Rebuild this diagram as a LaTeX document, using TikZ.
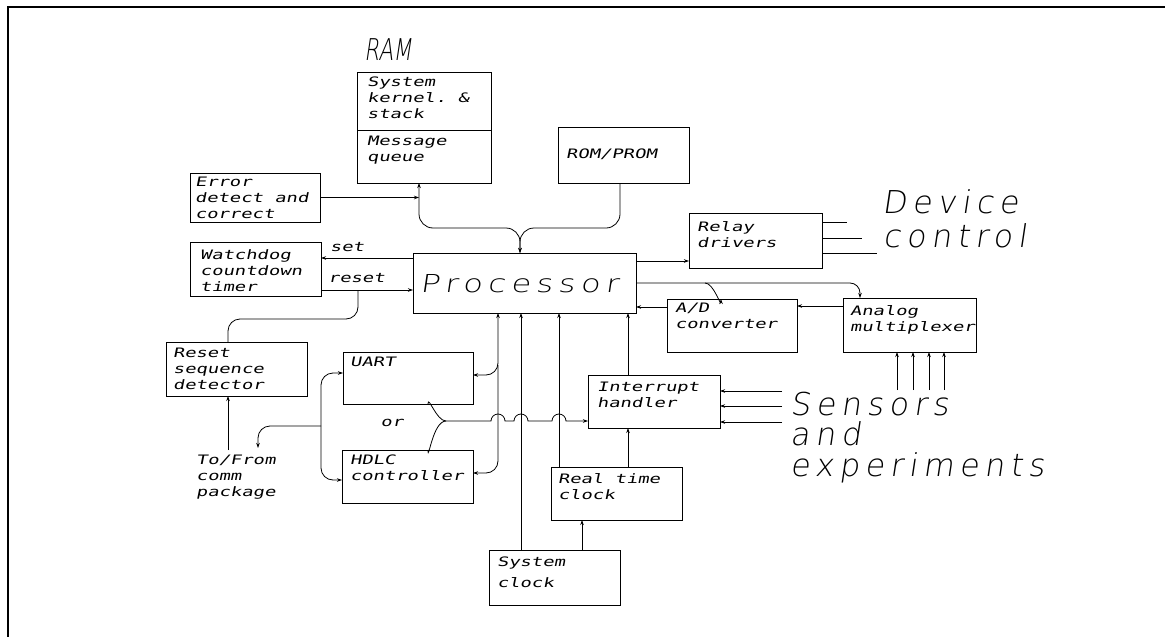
\documentclass[tikz,border=0pt]{standalone}
\usepackage{fontspec}
\usetikzlibrary{arrows.meta,calc}
\newfontfamily\plotmono[FakeSlant=0.2,FakeStretch=1.45]{DejaVu Sans Mono}
\newfontfamily\plotthin[FakeSlant=0.15,LetterSpace=18]{DejaVu Sans ExtraLight}
\newfontfamily\plotproc[FakeSlant=0.15,FakeStretch=1.3,LetterSpace=22]{DejaVu Sans ExtraLight}
\newfontfamily\plotram[FakeSlant=0.15,FakeStretch=0.72]{DejaVu Sans ExtraLight}
\newcommand\smallfnt{\plotmono\fontsize{13}{16}\selectfont}
\newcommand\bigfnt{\plotthin\fontsize{31.5}{30}\selectfont}
\begin{document}
\begin{tikzpicture}[x=1pt,y=-1pt,
  >={Stealth[length=5pt,width=3.5pt]},
  box/.style={draw, line width=0.9pt, anchor=north west, inner sep=0pt, outer sep=0pt},
  lbl/.style={anchor=north west, inner sep=0pt, align=left, font=\smallfnt},
  biglbl/.style={anchor=base west, inner sep=0pt, font=\bigfnt},
  conn/.style={line width=0.8pt}]
\useasboundingbox (0,0) rectangle (1165,637);
% frame
\draw[line width=2pt] (8,637) -- (8,7) -- (1165,7);

% boxes
\node[box, minimum width=134pt, minimum height=111pt] (ram) at (357,72) {};
\node[box, minimum width=130pt, minimum height=49pt] (err) at (190,173) {};
\node[box, minimum width=131pt, minimum height=56pt] (rom) at (558,127) {};
\node[box, minimum width=133pt, minimum height=55pt] (relay) at (689,213) {};
\node[box, minimum width=131pt, minimum height=54pt] (wd) at (190,242) {};
\node[box, minimum width=223pt, minimum height=60pt] (proc) at (413,253) {};
\node[box, minimum width=130pt, minimum height=53pt] (ad) at (667,299) {};
\node[box, minimum width=133pt, minimum height=54pt] (mux) at (843,298) {};
\node[box, minimum width=141pt, minimum height=54pt] (reset) at (166,342) {};
\node[box, minimum width=130pt, minimum height=52pt] (uart) at (343,352) {};
\node[box, minimum width=132pt, minimum height=53pt] (intr) at (588,375) {};
\node[box, minimum width=131pt, minimum height=53pt] (hdlc) at (342,450) {};
\node[box, minimum width=131pt, minimum height=53pt] (rtc) at (551,467) {};
\node[box, minimum width=131pt, minimum height=55pt] (sys) at (489,550) {};
\draw[line width=0.9pt] (ram.west |- 0,130) -- (ram.east |- 0,130);

% box texts
\node[lbl] (ramt) at ($(ram.north west)+(10,5)$) {System\\kernel.~\&\\stack};
\node[lbl] (ramq) at (367,136) {Message\\queue};
\node[lbl] (errt) at ($(err.north west)+(5,4)$) {Error\\detect and\\correct};
\node[lbl, anchor=west] (romt) at (566,154) {ROM/PROM};
\node[lbl] (relayt) at ($(relay.north west)+(8,8)$) {Relay\\drivers};
\node[lbl] (wdt) at ($(wd.north west)+(10,7)$) {Watchdog\\countdown\\timer};
\node[lbl] (adt) at ($(ad.north west)+(8,4)$) {A/D\\converter};
\node[lbl] (muxt) at ($(mux.north west)+(7,7)$) {Analog\\multiplexer};
\node[lbl] (resett) at ($(reset.north west)+(7,6)$) {Reset\\sequence\\detector};
\node[lbl] (uartt) at ($(uart.north west)+(7,5)$) {UART};
\node[lbl] (intrt) at ($(intr.north west)+(9,7)$) {Interrupt\\handler};
\node[lbl] (hdlct) at ($(hdlc.north west)+(8,5)$) {HDLC\\controller};
\node[lbl] (rtct) at ($(rtc.north west)+(7,6)$) {Real time\\clock};
\node[lbl] (syst) at ($(sys.north west)+(8,7)$) {System\\[5pt]clock};
\node[lbl] (tofrom) at (196,455) {To/From\\comm\\package};
\node[lbl] (setl) at (330,242) {set};
\node[lbl] (resetl) at (328,273) {reset};
\node[lbl, anchor=center] (orl) at (392,423) {or};

% big texts
\node[anchor=base, inner sep=0pt, font=\plotram\fontsize{30}{30}\selectfont] (ramlbl) at (388,60) {RAM};
\node[anchor=base west, inner sep=0pt, font=\plotproc\fontsize{24.7}{25}\selectfont] (proct) at (420,292) {Processor};
\node[biglbl] (dev1) at (882,213) {Device};
\node[biglbl] (dev2) at (883,247) {control};
\node[biglbl] (sen1) at (790,415) {Sensors};
\node[biglbl] (sen2) at (790,445) {and};
\node[biglbl] (sen3) at (790,476) {experiments};

% memory bus
\draw[conn, <->, rounded corners=14pt] (419,0 |- ram.south) -- (419,228) -- (520,228) -- (520,0 |- proc.north);
\draw[conn, ->, rounded corners=14pt] (620,0 |- rom.south) -- (620,228) -- (520,228) -- (520,0 |- proc.north);
\draw[conn, ->] (err.east) -- (419,0 |- err.east);

% watchdog
\draw[conn, ->] (proc.west |- 0,258) -- (wd.east |- 0,258);
\draw[conn, ->] (wd.east |- 0,290) -- (proc.west |- 0,290);
\draw[conn, rounded corners=12pt] (228,0 |- reset.north) -- (228,319) -- (358,319) -- (358,290);
\draw[conn, ->] ($(228,0 |- tofrom.north)+(0,-5)$) -- (228,0 |- reset.south);

% comm
\draw[conn, <->, rounded corners=12pt] (uart.west |- 0,373) -- (321,373) -- (321,480) -- (hdlc.west |- 0,480);
\draw[conn, ->, rounded corners=12pt] (321,426) -- (258,426) -- ($(258,0 |- tofrom.north)+(0,-7)$);
\draw[conn, <->, rounded corners=12pt] (uart.east |- 0,375) -- (498,375) -- (498,0 |- proc.south);
\draw[conn, ->, rounded corners=12pt] (498,365) -- (498,473) -- (hdlc.east |- 0,473);

% clocks and interrupts
\draw[conn, ->] (521,0 |- sys.north) -- (521,0 |- proc.south);
\draw[conn, ->] (559,0 |- rtc.north) -- (559,0 |- proc.south);
\draw[conn, ->] (582,0 |- sys.north) -- (582,0 |- rtc.south);
\draw[conn, ->] (628,0 |- rtc.north) -- (628,0 |- intr.south);
\draw[conn, ->] (628,0 |- intr.north) -- (628,0 |- proc.south);

% or-brace and bus to interrupt handler
\draw[conn] (428,0 |- uart.south) to[out=90,in=180] (446,421);
\draw[conn] (428,0 |- hdlc.north) to[out=-90,in=180] (446,421);
\draw[conn, ->] (446,421) -- (491,421) arc[start angle=180,end angle=360,radius=7]
  -- (514,421) arc[start angle=180,end angle=360,radius=7]
  -- (552,421) arc[start angle=180,end angle=360,radius=7]
  -- (intr.west |- 0,421);

% device control
\draw[conn, ->] (proc.east |- 0,261) -- (relay.west |- 0,261);
\draw[conn] (relay.east |- 0,222) -- (847,222);
\draw[conn] (relay.east |- 0,238) -- (862,238);
\draw[conn] (relay.east |- 0,253) -- (877,253);

% analog
\draw[conn, ->, rounded corners=10pt] (proc.east |- 0,283) -- (860,283) -- (860,0 |- mux.north);
\draw[conn, ->] (705,283) to[out=0,in=-90] (721,0 |- ad.north);
\draw[conn, ->] (ad.west |- 0,307) -- (proc.east |- 0,307);
\draw[conn, ->] (mux.west |- 0,306) -- (ad.east |- 0,306);
\foreach \x in {897,913,929,944} \draw[conn, ->] (\x,390) -- (\x,0 |- mux.south);
\foreach \y in {391,406,422} \draw[conn, ->] (782,\y) -- (intr.east |- 0,\y);
\end{tikzpicture}
\end{document}
